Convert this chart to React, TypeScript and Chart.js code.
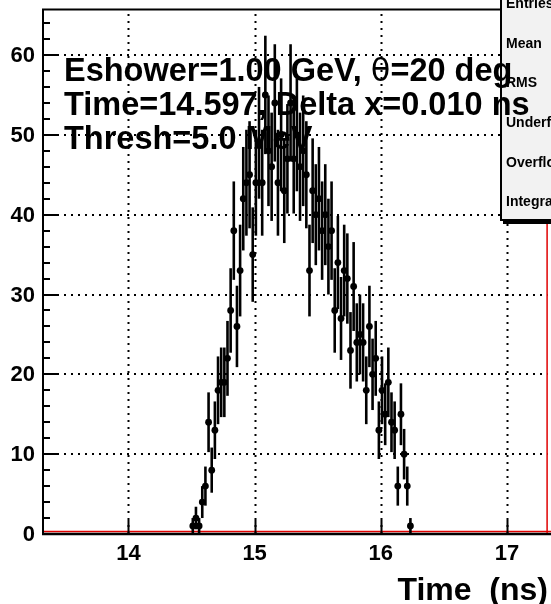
import React, { useEffect, useRef } from 'react';
import { Chart, registerables } from 'chart.js';

Chart.register(...registerables);

// Bin centers (ns), bin width 0.025 ns
const binCenters: number[] = [
  14.510, 14.535, 14.560, 14.585, 14.610, 14.635, 14.660, 14.685, 14.710, 14.735,
  14.760, 14.785, 14.810, 14.835, 14.860, 14.885, 14.910, 14.935, 14.960, 14.985,
  15.010, 15.035, 15.060, 15.085, 15.110, 15.135, 15.160, 15.185, 15.210, 15.235,
  15.260, 15.285, 15.310, 15.335, 15.360, 15.385, 15.410, 15.435, 15.460, 15.485,
  15.510, 15.535, 15.560, 15.585, 15.610, 15.635, 15.660, 15.685, 15.710, 15.735,
  15.760, 15.785, 15.810, 15.835, 15.860, 15.885, 15.910, 15.935, 15.960, 15.985,
  16.010, 16.035, 16.060, 16.085, 16.110, 16.135, 16.160, 16.185, 16.210, 16.235,
];

// Bin contents
const counts: number[] = [
  1, 2, 1, 4, 6, 14, 8, 13, 18, 19,
  19, 22, 28, 38, 26, 33, 42, 44, 45, 35,
  44, 49, 44, 55, 48, 46, 54, 44, 50, 43,
  47, 54, 47, 50, 46, 48, 45, 33, 43, 40,
  42, 38, 40, 36, 38, 28, 34, 27, 33, 32,
  23, 31, 24, 25, 24, 18, 26, 20, 22, 13,
  18, 15, 19, 14, 13, 6, 15, 10, 6, 1,
];

const xTicks: number[] = [14, 15, 16, 17];
const yTicks: number[] = [0, 10, 20, 30, 40, 50, 60];
const yMinorTicks: number[] = [2, 4, 6, 8, 12, 14, 16, 18, 22, 24, 26, 28, 32, 34, 36, 38, 42, 44, 46, 48, 52, 54, 56, 58, 62, 64];
const xGrid: number[] = [14, 15, 16, 17];
const yGrid: number[] = [10, 20, 30, 40, 50, 60];

const textLines: string[] = ['Eshower=1.00 GeV, ', '\u03b8', '=20 deg', 'Time=14.597, Delta x=0.010 ns', 'Thresh=5.0 MeV'];
const statsLabels: string[] = ['Entries', 'Mean', 'RMS', 'Underflow', 'Overflow', 'Integral'];
const xTitle = 'Time  (ns)';

const FONT = '"Liberation Sans", Arial, Helvetica, sans-serif';

const rootPlugin = {
  id: 'rootStyle',
  beforeDatasetsDraw(chart: any) {
    const ctx = chart.ctx as CanvasRenderingContext2D;
    const { left, right, top, bottom } = chart.chartArea;
    const xs = chart.scales.x;
    const ys = chart.scales.y;
    ctx.save();
    // dotted grid
    ctx.strokeStyle = '#000';
    ctx.lineWidth = 2;
    ctx.setLineDash([2, 5]);
    xGrid.forEach((v) => {
      const px = Math.round(xs.getPixelForValue(v)) + 0.5;
      ctx.beginPath();
      ctx.moveTo(px, bottom);
      ctx.lineTo(px, top);
      ctx.stroke();
    });
    yGrid.forEach((v) => {
      const py = Math.round(ys.getPixelForValue(v));
      ctx.beginPath();
      ctx.moveTo(left, py);
      ctx.lineTo(right, py);
      ctx.stroke();
    });
    ctx.setLineDash([]);

    // stats box (drawn under the annotation text)
    ctx.fillStyle = '#f2f2f2';
    ctx.fillRect(501, -5, 60, 225);
    ctx.strokeStyle = '#000';
    ctx.lineWidth = 2;
    ctx.strokeRect(501, -5, 60, 225);
    ctx.fillStyle = '#000';
    ctx.fillRect(503, 220, 60, 4);
    ctx.font = `bold 14px ${FONT}`;
    ctx.textAlign = 'left';
    ctx.textBaseline = 'alphabetic';
    const baselines = [8, 48, 87, 127, 167, 206];
    statsLabels.forEach((s, i) => {
      ctx.fillText(s, 506, baselines[i]);
    });

    // annotation text
    ctx.fillStyle = '#000';
    ctx.textAlign = 'left';
    ctx.textBaseline = 'alphabetic';
    const tx = 64;
    ctx.font = `bold 32.5px ${FONT}`;
    ctx.fillText(textLines[0], tx, 81);
    let w = ctx.measureText(textLines[0]).width;
    ctx.font = `32px "DejaVu Sans", ${FONT}`;
    ctx.fillText(textLines[1], tx + w, 81);
    w += ctx.measureText(textLines[1]).width;
    ctx.font = `bold 32.5px ${FONT}`;
    ctx.fillText(textLines[2], tx + w, 81);
    ctx.fillText(textLines[3], tx, 115);
    ctx.fillText(textLines[4], tx, 149);

    // red histogram zero line
    ctx.strokeStyle = '#e00000';
    ctx.lineWidth = 1.5;
    ctx.beginPath();
    ctx.moveTo(left, ys.getPixelForValue(0) - 2.5);
    ctx.lineTo(chart.width, ys.getPixelForValue(0) - 2.5);
    ctx.stroke();

    // error bars
    ctx.strokeStyle = '#000';
    ctx.lineWidth = 2.6;
    ctx.lineCap = 'butt';
    binCenters.forEach((t, i) => {
      const c = counts[i];
      const e = Math.sqrt(c);
      const px = xs.getPixelForValue(t);
      ctx.beginPath();
      ctx.moveTo(px, ys.getPixelForValue(c - e));
      ctx.lineTo(px, ys.getPixelForValue(c + e));
      ctx.stroke();
    });
    ctx.restore();
  },
  afterDatasetsDraw(chart: any) {
    const ctx = chart.ctx as CanvasRenderingContext2D;
    const { left, right, top, bottom } = chart.chartArea;
    const xs = chart.scales.x;
    const ys = chart.scales.y;
    ctx.save();
    ctx.strokeStyle = '#000';
    ctx.fillStyle = '#000';
    // frame: left and top, bottom axis
    ctx.lineWidth = 2;
    ctx.beginPath();
    ctx.moveTo(left, bottom + 1);
    ctx.lineTo(left, top);
    ctx.lineTo(501, top);
    ctx.stroke();
    ctx.lineWidth = 2.5;
    ctx.beginPath();
    ctx.moveTo(left - 1, bottom);
    ctx.lineTo(chart.width, bottom);
    ctx.stroke();

    // y ticks
    ctx.lineWidth = 2;
    yTicks.forEach((v) => {
      const py = Math.round(ys.getPixelForValue(v));
      ctx.beginPath();
      ctx.moveTo(left, py);
      ctx.lineTo(left + 14, py);
      ctx.stroke();
    });
    yMinorTicks.forEach((v) => {
      const py = Math.round(ys.getPixelForValue(v));
      ctx.beginPath();
      ctx.moveTo(left, py);
      ctx.lineTo(left + 7, py);
      ctx.stroke();
    });
    // x ticks
    xTicks.forEach((v) => {
      const px = Math.round(xs.getPixelForValue(v)) + 0.5;
      ctx.beginPath();
      ctx.moveTo(px, bottom);
      ctx.lineTo(px, bottom - 14);
      ctx.stroke();
    });

    // tick labels
    ctx.font = `bold 22px ${FONT}`;
    ctx.textAlign = 'right';
    ctx.textBaseline = 'middle';
    yTicks.forEach((v) => {
      ctx.fillText(String(v), 35, ys.getPixelForValue(v) + 1);
    });
    ctx.textAlign = 'center';
    ctx.textBaseline = 'alphabetic';
    xTicks.forEach((v) => {
      ctx.fillText(String(v), xs.getPixelForValue(v), 560);
    });

    // x title
    ctx.font = `bold 32px ${FONT}`;
    ctx.textAlign = 'right';
    ctx.fillText(xTitle, 548, 600);

    // red right edge
    ctx.strokeStyle = '#e00000';
    ctx.lineWidth = 1.5;
    ctx.beginPath();
    ctx.moveTo(right - 0.5, 224);
    ctx.lineTo(right - 0.5, bottom - 1);
    ctx.stroke();
    ctx.restore();
  },
};

export default function App() {
  const canvasRef = useRef<HTMLCanvasElement | null>(null);

  useEffect(() => {
    if (!canvasRef.current) return;
    const chart = new Chart(canvasRef.current, {
      type: 'scatter',
      data: {
        datasets: [
          {
            data: binCenters.map((t, i) => ({ x: t, y: counts[i] })),
            pointRadius: 3.4,
            pointHoverRadius: 3.4,
            backgroundColor: '#000',
            borderColor: '#000',
            borderWidth: 0,
            showLine: false,
          },
        ],
      },
      options: {
        animation: false,
        responsive: false,
        devicePixelRatio: 1,
        events: [],
        layout: { padding: { left: 43, right: 2, top: 9.5, bottom: 70 } },
        plugins: { legend: { display: false }, tooltip: { enabled: false } },
        scales: {
          x: { type: 'linear', min: 13.3225, max: 17.3225, display: false },
          y: { type: 'linear', min: 0, max: 65.7, display: false },
        },
      },
      plugins: [rootPlugin],
    });
    return () => chart.destroy();
  }, []);

  return (
    <div style={{ position: 'absolute', left: 0, top: 0, width: 551, height: 604, background: '#fff', overflow: 'hidden' }}>
      <canvas ref={canvasRef} width={551} height={604} style={{ width: 551, height: 604, display: 'block' }} />
    </div>
  );
}
